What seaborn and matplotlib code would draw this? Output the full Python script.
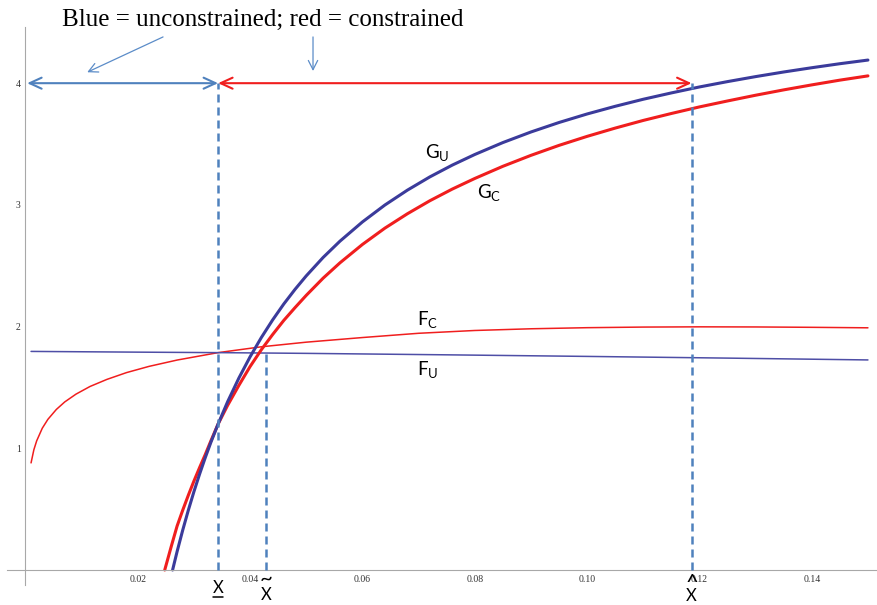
import matplotlib
matplotlib.use("Agg")
import matplotlib.pyplot as plt
import seaborn as sns

# ---- curve samples -------------------------------------------------------
x_gu = [0.0262, 0.027, 0.028, 0.029, 0.030, 0.031, 0.032, 0.033, 0.0343, 0.036,
        0.038, 0.040, 0.042, 0.044, 0.046, 0.048, 0.050, 0.053, 0.056, 0.060,
        0.064, 0.068, 0.072, 0.076, 0.080, 0.085, 0.090, 0.095, 0.100, 0.105,
        0.110, 0.115, 0.120, 0.125, 0.130, 0.135, 0.140, 0.145, 0.150]
g_unconstrained = [0.0, 0.151, 0.327, 0.491, 0.644, 0.787, 0.921, 1.047, 1.199, 1.383,
                   1.577, 1.752, 1.910, 2.054, 2.186, 2.306, 2.417, 2.568, 2.702, 2.860,
                   2.999, 3.121, 3.230, 3.327, 3.414, 3.512, 3.599, 3.677, 3.747, 3.810,
                   3.868, 3.920, 3.969, 4.013, 4.054, 4.092, 4.127, 4.160, 4.190]

x_gc = [0.0248, 0.026, 0.027, 0.028, 0.029, 0.030, 0.031, 0.032, 0.033, 0.0343,
        0.036, 0.038, 0.040, 0.042, 0.044, 0.046, 0.048, 0.050, 0.053, 0.056,
        0.060, 0.064, 0.068, 0.072, 0.076, 0.080, 0.085, 0.090, 0.095, 0.100,
        0.105, 0.110, 0.115, 0.120, 0.125, 0.130, 0.135, 0.140, 0.145, 0.150]
g_constrained = [0.0, 0.20, 0.361, 0.491, 0.614, 0.731, 0.841, 0.947, 1.059, 1.199,
                 1.353, 1.517, 1.672, 1.810, 1.934, 2.051, 2.156, 2.257, 2.398, 2.524,
                 2.675, 2.809, 2.927, 3.034, 3.130, 3.217, 3.317, 3.407, 3.489, 3.563,
                 3.631, 3.694, 3.751, 3.805, 3.854, 3.901, 3.945, 3.986, 4.025, 4.060]

x_fu = [0.001, 0.02, 0.0343, 0.05, 0.075, 0.10, 0.125, 0.150]
f_unconstrained = [1.796, 1.790, 1.786, 1.780, 1.768, 1.755, 1.741, 1.726]

x_fc = [0.0010, 0.0015, 0.0020, 0.0030, 0.0040, 0.0055, 0.0070, 0.0090, 0.0115,
        0.0145, 0.018, 0.022, 0.027, 0.0343, 0.042, 0.050, 0.060, 0.070, 0.080,
        0.090, 0.100, 0.110, 0.120, 0.130, 0.140, 0.150]
f_constrained = [0.88, 0.988, 1.061, 1.165, 1.238, 1.319, 1.381, 1.445, 1.508,
                 1.566, 1.622, 1.673, 1.725, 1.786, 1.834, 1.872, 1.910, 1.945, 1.968,
                 1.982, 1.991, 1.996, 1.998, 1.997, 1.994, 1.990]

# ---- thresholds -----------------------------------------------------------
x_low = 0.0343      # x underbar
x_tilde = 0.0428    # x tilde
x_hat = 0.1186      # x hat
level_top = 4.0
level_tilde = 1.80

x_major = [0.02, 0.04, 0.06, 0.08, 0.10, 0.12, 0.14]
x_major_labels = ["0.02", "0.04", "0.06", "0.08", "0.10", "0.12", "0.14"]
y_major = [1, 2, 3, 4]
y_major_labels = ["1", "2", "3", "4"]

# ---- style -----------------------------------------------------------------
sns.set_theme(style="white")
plt.rcParams["font.family"] = ["Lato", "DejaVu Sans"]
plt.rcParams["mathtext.fontset"] = "custom"
plt.rcParams["mathtext.rm"] = "Lato"
plt.rcParams["mathtext.it"] = "Lato:italic"
plt.rcParams["mathtext.bf"] = "Lato:bold"

NAVY = "#3b3b9b"
NAVY_THIN = "#4e4ea6"
RED = "#f01e1e"
STEEL = "#4f81bd"
AXIS = "#a8a8a8"

fig = plt.figure(figsize=(8.78, 6.05), dpi=100)
W, H = 878.0, 605.0
left_px, right_px, top_px, bottom_px = 6.9, 878.0, 27.2, 584.6
ax = fig.add_axes([left_px / W, (H - bottom_px) / H,
                   (right_px - left_px) / W, (bottom_px - top_px) / H])
ax.set_xlim(-0.0033, 0.15179)
ax.set_ylim(-0.12, 4.46)
ax.patch.set_alpha(0)

# curves
sns.lineplot(x=x_fc, y=f_constrained, ax=ax, color=RED, lw=1.1,
             sort=False, estimator=None)
sns.lineplot(x=x_fu, y=f_unconstrained, ax=ax, color=NAVY_THIN, lw=1.1,
             sort=False, estimator=None)
sns.lineplot(x=x_gc, y=g_constrained, ax=ax, color=RED, lw=2.2,
             sort=False, estimator=None)
sns.lineplot(x=x_gu, y=g_unconstrained, ax=ax, color=NAVY, lw=2.2,
             sort=False, estimator=None)
for line in ax.get_lines():
    line.set_solid_joinstyle("round")

# dashed guides
dash = (0, (3.2, 2.0))
ax.vlines([x_low, x_hat], 0, level_top, colors=STEEL, lw=1.8, linestyles=dash, zorder=5)
ax.vlines([x_tilde], 0, level_tilde, colors=STEEL, lw=1.8, linestyles=dash, zorder=5)

# range arrows at the top level
head = "<->,head_length=0.72,head_width=0.33"
ax.annotate("", xy=(0.0003, level_top), xytext=(x_low, level_top),
            arrowprops=dict(arrowstyle=head, color=STEEL, lw=1.5,
                            shrinkA=0, shrinkB=0, mutation_scale=12))
ax.annotate("", xy=(x_low, level_top), xytext=(x_hat, level_top),
            arrowprops=dict(arrowstyle=head, color=RED, lw=1.5,
                            shrinkA=0, shrinkB=0, mutation_scale=12))

# heading with pointers
ax.text(0.0423, 4.47, "Blue = unconstrained; red = constrained",
        family="Liberation Serif", fontsize=18, ha="center", va="baseline",
        color="black", clip_on=False)
pointer = dict(arrowstyle="->,head_length=0.55,head_width=0.28", color="#5b8cc8",
               lw=0.9, shrinkA=0, shrinkB=0, mutation_scale=12)
ax.annotate("", xy=(0.0110, 4.09), xytext=(0.0245, 4.38), arrowprops=pointer,
            annotation_clip=False)
ax.annotate("", xy=(0.0512, 4.10), xytext=(0.0512, 4.38), arrowprops=pointer,
            annotation_clip=False)

# curve labels
lab = dict(fontsize=13.5, color="black", ha="left", va="baseline")
ax.text(0.0711, 3.385, r"$\mathrm{G}_{\mathrm{U}}$", **lab)
ax.text(0.0804, 3.057, r"$\mathrm{G}_{\mathrm{C}}$", **lab)
ax.text(0.0697, 2.013, r"$\mathrm{F}_{\mathrm{C}}$", **lab)
ax.text(0.0697, 1.602, r"$\mathrm{F}_{\mathrm{U}}$", **lab)

# threshold markers under the axis
mk = dict(fontsize=12, color="black", ha="center", va="baseline", clip_on=False)
ax.text(x_low, -0.189, "X", **mk)
ax.plot([x_low - 0.0009, x_low + 0.0009], [-0.222, -0.222], color="black",
        lw=1.1, clip_on=False)
ax.text(x_tilde, -0.2465, "X", **mk)
ax.text(x_tilde, -0.125, "~", fontsize=16, color="black", ha="center",
        va="baseline", clip_on=False)
ax.text(x_hat, -0.255, "X", **mk)
ax.text(x_hat, -0.16, "^", fontsize=16, color="black", ha="center",
        va="baseline", clip_on=False)

# axes crossing at the origin
for side in ("top", "right"):
    ax.spines[side].set_visible(False)
ax.spines["left"].set_position(("data", 0))
ax.spines["bottom"].set_position(("data", 0))
for side in ("left", "bottom"):
    ax.spines[side].set_color(AXIS)
    ax.spines[side].set_linewidth(0.8)

ax.set_xticks(x_major)
ax.set_xticklabels(x_major_labels)
ax.set_xticks([i * 0.005 for i in range(1, 31) if i % 4], minor=True)
ax.set_yticks(y_major)
ax.set_yticklabels(y_major_labels)
ax.set_yticks([i * 0.2 for i in range(1, 23) if i % 5], minor=True)

ax.tick_params(axis="both", which="both", direction="in", color=AXIS, width=0.7,
               labelsize=7, labelcolor="#333333", pad=3.5)
ax.tick_params(axis="both", which="major", length=3.8)
ax.tick_params(axis="both", which="minor", length=2.2)
for t in ax.get_xticklabels() + ax.get_yticklabels():
    t.set_family("Liberation Serif")
ax.set_xlabel("")
ax.set_ylabel("")
ax.grid(False)

fig.savefig("out.png", dpi=100)
